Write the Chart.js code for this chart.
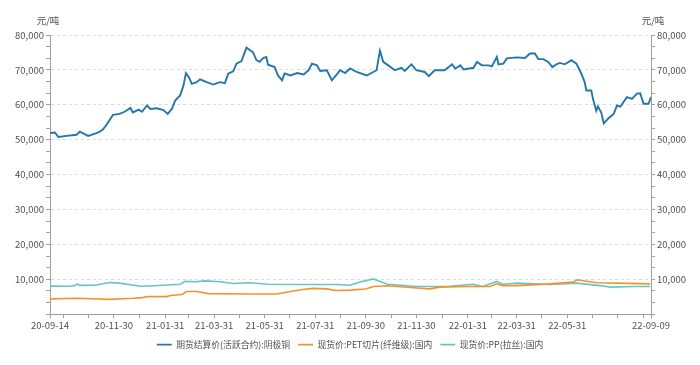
<!DOCTYPE html>
<html>
<head>
<meta charset="utf-8">
<script src="https://cdn.jsdelivr.net/npm/chart.js@4/dist/chart.umd.min.js"></script>
<style>
  html, body { margin: 0; padding: 0; background: #fff; }
  #wrap { width: 700px; height: 365px; }
</style>
</head>
<body>
<div id="wrap"><canvas id="c" width="700" height="365"></canvas></div>
<script>
// 横轴: 自 2020-09-14 起的天数
const START = '2020-09-14';
const END = '2022-09-09';
const seriesNames = ['期货结算价(活跃合约):阴极铜', '现货价:PET切片(纤维级):国内', '现货价:PP(拉丝):国内'];
const unitLabel = '元/吨';
const xLabelDates = ['20-09-14', '20-11-30', '21-01-31', '21-03-31', '21-05-31', '21-07-31',
  '21-09-30', '21-11-30', '22-01-31', '22-03-31', '22-05-31', '22-09-09'];
const yLabelValues = [10000, 20000, 30000, 40000, 50000, 60000, 70000, 80000];

const cuDays = [0, 6, 10, 20, 32, 36, 46, 56, 60, 64, 68, 76, 84, 90, 97, 100, 107, 111, 117, 121,
  129, 137, 142, 147, 151, 157, 161, 164, 168, 171, 177, 181, 189, 197, 205, 211, 215, 221, 225, 231,
  237, 241, 245, 249, 253, 257, 261, 263, 271, 275, 280, 283, 290, 298, 306, 312, 316, 322, 326, 334,
  340, 346, 350, 356, 362, 370, 382, 394, 398, 402, 408, 416, 424, 428, 436, 442, 452, 457, 464, 476,
  485, 489, 495, 499, 511, 515, 521, 529, 533, 539, 541, 547, 551, 563, 573, 579, 585, 589, 595, 601,
  606, 611, 615, 621, 629, 635, 641, 645, 647, 653, 655, 659, 661, 665, 668, 674, 680, 684, 688, 696,
  702, 708, 712, 716, 722, 725];
const cuVals = [51900, 52050, 50800, 51100, 51400, 52300, 51100, 51900, 52300, 53000, 54200, 57100, 57400, 58000, 59100, 57800, 58600, 58000, 59800, 58800,
  59000, 58500, 57400, 58800, 61200, 62700, 65500, 69100, 67700, 66000, 66500, 67300, 66500, 65800, 66500, 66200, 68900, 69600, 71800, 72500,
  76400, 75700, 75000, 72800, 72300, 73400, 73700, 71500, 70800, 68400, 67000, 69000, 68400, 69100, 68700, 69900, 71800, 71300, 69700, 69900,
  67000, 68700, 69900, 69100, 70400, 69400, 68400, 69900, 75500, 72300, 71300, 69900, 70600, 69700, 71600, 69900, 69400, 68200, 69900, 69900,
  71600, 70400, 71300, 70100, 70600, 72300, 71300, 71300, 71000, 73700, 71600, 71800, 73300, 73600, 73400, 74700, 74700, 73100, 73100, 72300,
  70800, 71600, 72000, 71600, 72800, 71800, 68900, 66500, 64100, 64100, 61700, 58300, 59500, 57800, 54700, 56200, 57400, 59800, 59500, 62200,
  61700, 63200, 63300, 60300, 60300, 62200];

const petDays = [0, 33, 72, 100, 112, 117, 141, 145, 159, 165, 177, 191, 241, 274, 290, 305, 317, 334, 345, 362,
  374, 382, 390, 407, 443, 458, 470, 503, 531, 539, 546, 563, 603, 631, 636, 643, 660, 684, 724];
const petVals = [4400, 4550, 4250, 4550, 4750, 5050, 5050, 5350, 5650, 6500, 6500, 5900, 5800, 5800, 6500, 7100, 7400, 7250, 6800, 6900,
  7100, 7300, 7950, 8150, 7500, 7250, 7750, 7950, 7950, 8700, 8200, 8200, 8700, 9200, 9850, 9600, 9000, 8900, 8700];

const ppDays = [0, 24, 30, 33, 36, 54, 72, 84, 109, 121, 136, 157, 163, 175, 187, 205, 221, 241, 262, 302,
  345, 362, 374, 390, 407, 443, 482, 510, 522, 539, 546, 563, 603, 636, 663, 676, 703, 724];
const ppVals = [8050, 8000, 8200, 8650, 8250, 8300, 9100, 8900, 8000, 8100, 8300, 8600, 9400, 9300, 9550, 9300, 8800, 9000, 8600, 8500,
  8500, 8300, 9200, 10100, 8600, 7950, 8000, 8600, 7950, 9400, 8600, 8900, 8500, 8900, 8200, 7750, 7950, 7950];

const FONT = '"Noto Sans CJK SC", "Noto Sans", sans-serif';
const TEXT = '#505050';
const AXIS = '#a0a0a0';

function dayOf(s) {
  const p = s.split('-').map(Number);
  const y = p[0] < 100 ? 2000 + p[0] : p[0];
  const a = Date.UTC(2020, 8, 14);
  return Math.round((Date.UTC(y, p[1] - 1, p[2]) - a) / 864e5);
}
const maxDay = dayOf(END);

// 月末刻度
function monthEndTicks() {
  const out = [0];
  for (let y = 2020, m = 9; ; m++) {
    if (m > 12) { m = 1; y++; }
    const d = new Date(Date.UTC(y, m, 0));
    const day = Math.round((d - Date.UTC(2020, 8, 14)) / 864e5);
    if (day >= maxDay) break;
    if (day > 0) out.push(day);
  }
  out.push(maxDay);
  return out;
}
const labelDays = new Map(xLabelDates.map(s => [dayOf(s), s]));

const pts = (xs, ys) => xs.map((x, i) => ({ x, y: ys[i] }));

function yTicks(scale) {
  const t = [];
  for (let i = 0; i <= 24; i++) t.push({ value: i % 3 === 0 ? (i / 3) * 10000 : i * 10000 / 3 });
  scale.ticks = t;
}
const fmt = v => yLabelValues.includes(v) ? v.toLocaleString('en-US') : '';

const unitTitles = {
  id: 'unitTitles',
  afterDraw(chart) {
    const { ctx, chartArea } = chart;
    ctx.save();
    ctx.font = '9.5px ' + FONT;
    ctx.fillStyle = TEXT;
    ctx.textAlign = 'center';
    ctx.textBaseline = 'middle';
    ctx.fillText(unitLabel, chartArea.left - 2, 20);
    ctx.fillText(unitLabel, chartArea.right + 2, 20);
    ctx.restore();
  }
};

new Chart(document.getElementById('c'), {
  type: 'line',
  data: {
    datasets: [
      { label: seriesNames[0], data: pts(cuDays, cuVals), borderColor: '#2676ae', backgroundColor: '#2676ae', borderWidth: 1.9, yAxisID: 'y' },
      { label: seriesNames[1], data: pts(petDays, petVals), borderColor: '#f6922e', backgroundColor: '#f6922e', borderWidth: 1.6, yAxisID: 'y' },
      { label: seriesNames[2], data: pts(ppDays, ppVals), borderColor: '#64c6c6', backgroundColor: '#64c6c6', borderWidth: 1.6, yAxisID: 'y' },
    ],
  },
  options: {
    responsive: false,
    animation: false,
    elements: { point: { radius: 0 }, line: { tension: 0 } },
    layout: { padding: { top: 35, left: 0, right: 0, bottom: 6 } },
    plugins: {
      tooltip: { enabled: false },
      legend: {
        position: 'bottom',
        labels: {
          usePointStyle: true,
          pointStyle: 'line',
          pointStyleWidth: 15,
          boxHeight: 9,
          padding: 8,
          color: TEXT,
          font: { family: FONT, size: 8.8 },
        },
      },
    },
    scales: {
      x: {
        type: 'linear',
        min: 0,
        max: maxDay,
        afterBuildTicks: s => { s.ticks = monthEndTicks().map(v => ({ value: v })); },
        afterFit: s => { s.height = 18; },
        ticks: {
          autoSkip: false,
          maxRotation: 0,
          padding: 1,
          color: TEXT,
          font: { family: FONT, size: 9.5 },
          callback: v => labelDays.get(v) || '',
        },
        grid: { drawOnChartArea: false, tickLength: 4, tickColor: AXIS },
        border: { color: AXIS },
      },
      y: {
        position: 'left',
        min: 0,
        max: 80000,
        afterBuildTicks: yTicks,
        afterFit: s => { s.width = 50; },
        ticks: { autoSkip: false, padding: 2, color: TEXT, font: { family: FONT, size: 9.5 }, callback: fmt },
        grid: {
          color: c => (c.tick && c.tick.value > 0 && c.tick.value % 10000 === 0) ? '#dcdcdc' : 'rgba(0,0,0,0)',
          tickLength: 4,
          tickColor: AXIS,
        },
        border: { color: AXIS, dash: [3, 3] },
      },
      y2: {
        position: 'right',
        min: 0,
        max: 80000,
        afterBuildTicks: yTicks,
        afterFit: s => { s.width = 49; },
        ticks: { autoSkip: false, padding: 2, color: TEXT, font: { family: FONT, size: 9.5 }, callback: fmt },
        grid: { drawOnChartArea: false, tickLength: 4, tickColor: AXIS },
        border: { color: AXIS },
      },
    },
  },
  plugins: [unitTitles],
});
</script>
</body>
</html>
